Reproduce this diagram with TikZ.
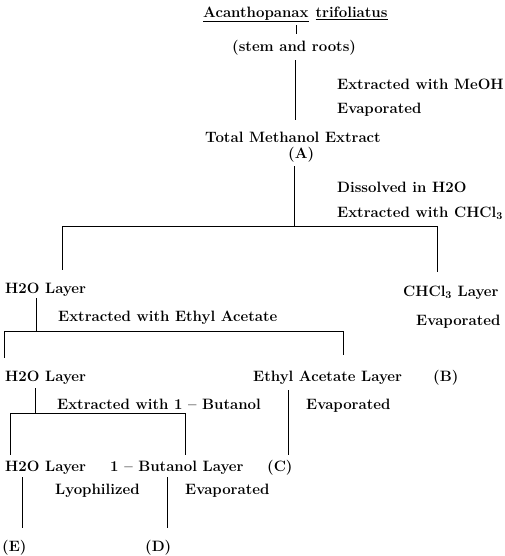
\documentclass[tikz,border=0pt]{standalone}
\usetikzlibrary{calc}

\begin{document}
\begin{tikzpicture}[x=1pt,y=-1pt,
    lbl/.style={anchor=west,inner sep=0pt,text height=10.5pt,text depth=0pt,
      font=\fontsize{15}{18}\selectfont\bfseries},
    conn/.style={line width=1pt}]
  \useasboundingbox (0,0) rectangle (504,556);
  % texts
  \node[lbl] (title) at (203,12) {\underline{Acanthopanax}\hspace{7pt}\underline{trifoliatus}};
  \node[lbl] (stem) at (232,46) {(stem and roots)};
  \node[lbl] (meoh) at (337,84) {Extracted with MeOH};
  \node[lbl] (evapA) at (337,108) {Evaporated};
  \node[lbl] (total) at (205,137) {Total Methanol Extract};
  \node[lbl] (fA) at (288,153) {(A)};
  \node[lbl] (diss) at (337,187) {Dissolved in H2O};
  \node[lbl] (exchl) at (337,212) {Extracted with CHCl\textsubscript{3}};
  \node[lbl] (waterA) at (5,288) {H2O Layer};
  \node[lbl] (chlL) at (403,291) {CHCl\textsubscript{3} Layer};
  \node[lbl] (exea) at (58,316) {Extracted with Ethyl Acetate};
  \node[lbl] (evapB) at (416,320) {Evaporated};
  \node[lbl] (waterB) at (5,376) {H2O Layer};
  \node[lbl] (eaL) at (253,376) {Ethyl Acetate Layer};
  \node[lbl] (fB) at (433,376) {(B)};
  \node[lbl] (exbu) at (57,404) {Extracted with 1 -- Butanol};
  \node[lbl] (evapC) at (306,404) {Evaporated};
  \node[lbl] (waterC) at (5,466) {H2O Layer};
  \node[lbl] (buL) at (110,466) {1 -- Butanol Layer};
  \node[lbl] (fC) at (267,466) {(C)};
  \node[lbl] (lyo) at (55,489) {Lyophilized};
  \node[lbl] (evapD) at (185,489) {Evaporated};
  \node[lbl] (fE) at (2,546) {(E)};
  \node[lbl] (fD) at (145,546) {(D)};
  % junctions
  \coordinate (tk) at (296,0);
  \coordinate (trA) at (295,0);
  \coordinate (jA) at (294,226);
  \coordinate (b1l) at (62,226);
  \coordinate (b1r) at (437,226);
  \coordinate (jB) at (36,331);
  \coordinate (b2l) at (4,331);
  \coordinate (b2r) at (343,331);
  \coordinate (jC) at (35,413);
  \coordinate (b3l) at (10,413);
  \coordinate (b3r) at (185,413);
  \coordinate (trC) at (288,0);
  \coordinate (trE) at (22,0);
  \coordinate (trD) at (167,0);
  % connectors
  \draw[conn,shorten <=8pt,shorten >=7pt] (title.south -| tk) -- (stem.north -| tk);
  \draw[conn,shorten <=9pt,shorten >=12pt] (stem.south -| trA) -- (total.north -| trA);
  \draw[conn,shorten <=8pt] (fA.south -| jA) -- (jA);
  \draw[conn,shorten <=13pt,shorten >=14pt] (waterA.north -| b1l) -- (b1l) -- (b1r) -- (chlL.north -| b1r);
  \draw[conn,shorten <=5pt] (waterA.south -| jB) -- (jB);
  \draw[conn,shorten <=13pt,shorten >=16pt] (waterB.north -| b2l) -- (b2l) -- (b2r) -- (eaL.north -| b2r);
  \draw[conn,shorten <=7pt] (waterB.south -| jC) -- (jC);
  \draw[conn,shorten <=6pt,shorten >=6pt] (waterC.north -| b3l) -- (b3l) -- (b3r) -- (buL.north -| b3r);
  \draw[conn,shorten <=9pt,shorten >=6pt] (eaL.south -| trC) -- (fC.north -| trC);
  \draw[conn,shorten <=6pt,shorten >=13pt] (waterC.south -| trE) -- (fE.north -| trE);
  \draw[conn,shorten <=6pt,shorten >=13pt] (buL.south -| trD) -- (fD.north -| trD);
\end{tikzpicture}
\end{document}
